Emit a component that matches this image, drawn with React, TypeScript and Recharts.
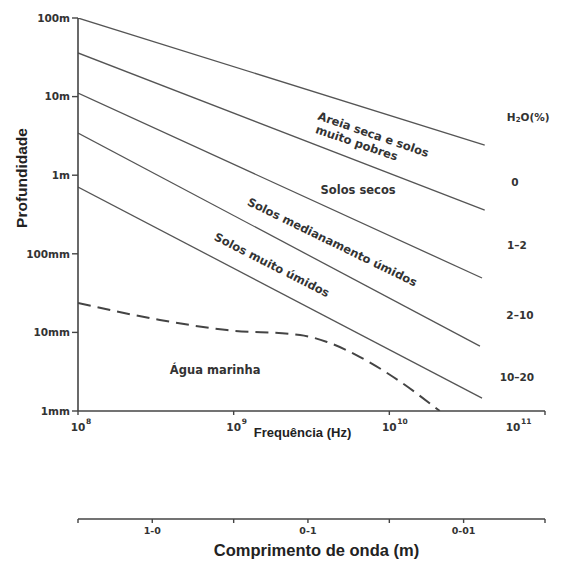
import { LineChart, Line, XAxis, YAxis, ReferenceDot } from "recharts"

// frequency (Hz) vs penetration depth (m), log-log
const areia = [{ f: 1e8, d: 100 }, { f: 4.1e10, d: 2.42 }]
const secos = [{ f: 1e8, d: 35.9 }, { f: 4.1e10, d: 0.36 }]
const medianos = [{ f: 1e8, d: 11.1 }, { f: 3.94e10, d: 0.0492 }]
const muitoUmidos = [{ f: 1e8, d: 3.44 }, { f: 3.82e10, d: 0.0067 }]
const encharcados = [{ f: 1e8, d: 0.708 }, { f: 3.94e10, d: 0.00146 }]
const aguaMarinha = [
  { f: 1e8, d: 0.0237 },
  { f: 3.36e8, d: 0.0144 },
  { f: 9.06e8, d: 0.0107 },
  { f: 2.67e9, d: 0.00927 },
  { f: 3.98e9, d: 0.00755 },
  { f: 6.49e9, d: 0.00486 },
  { f: 1.06e10, d: 0.00271 },
  { f: 2.11e10, d: 0.001 },
]

const freqTicks = [1e8, 1e9, 1e10, 1e11]
const depthTicks = [0.001, 0.01, 0.1, 1, 10, 100]
const depthLabels = ["1mm", "10mm", "100mm", "1m", "10m", "100m"]
const waveTicks = [3, 1, 0.3, 0.1, 0.03, 0.01, 0.003]
const waveLabels: Record<number, string> = { 1: "1-0", 0.1: "0-1", 0.01: "0-01" }

const notes = [
  { id: "areia", f: 7.9e9, d: 3.3, text: ["Areia seca e solos", "muito pobres"] },
  { id: "secos", f: 6.3e9, d: 0.65, text: ["Solos secos"] },
  { id: "medianos", f: 4.3e9, d: 0.141, text: ["Solos medianamento úmidos"] },
  { id: "umidos", f: 1.76e9, d: 0.0721, text: ["Solos muito úmidos"] },
  { id: "agua", f: 7.6e8, d: 0.00333, text: ["Água marinha"] },
]
const h2o = [
  { id: "h0", f: 7.8e10, d: 5.5, text: "0" },
  { id: "h1", f: 6.4e10, d: 0.82, text: "0" },
  { id: "h2", f: 6.6e10, d: 0.129, text: "1–2" },
  { id: "h3", f: 6.9e10, d: 0.0166, text: "2–10" },
  { id: "h4", f: 6.6e10, d: 0.00271, text: "10–20" },
]

const INK = "#333"
const LINE = "#555"
const FONT = "DejaVu Sans"
const TITLE_FONT = "Liberation Sans, Arial, sans-serif"
const rot: Record<string, number> = { areia: 19, secos: 0, medianos: 26, umidos: 27, agua: 0 }

const Note = ({ cx, cy, id, text }: any) => (
  <g transform={`translate(${cx},${cy}) rotate(${rot[id]})`}>
    {text.map((t: string, i: number) => (
      <text key={i} x={i * -13} y={i * 13.5} textAnchor="middle" dominantBaseline="central"
        fontFamily={FONT} fontWeight="bold" fontSize={11.5} fill={INK}>{t}</text>
    ))}
  </g>
)

const H2O = ({ cx, cy, id, text }: any) => (
  <text x={cx} y={cy} textAnchor="middle" dominantBaseline="central"
    fontFamily={FONT} fontWeight="bold" fontSize={10.5} fill={INK}>
    {id === "h0" ? <><tspan>H</tspan><tspan fontSize={7} dy={3}>2</tspan><tspan dy={-3}>O(%)</tspan></> : text}
  </text>
)

const FreqTick = ({ x, y, payload }: any) => (
  <g>
    <text x={x} y={y + 14} textAnchor="middle" fontFamily={FONT} fontWeight="bold" fontSize={10.5} fill={INK}>10</text>
    <text x={x + 8} y={y + 7} textAnchor="start" fontFamily={FONT} fontWeight="bold" fontSize={7.5} fill={INK}>
      {Math.round(Math.log10(payload.value))}
    </text>
  </g>
)

export default function App() {
  return (
    <div style={{ position: "absolute", left: 0, top: 0, width: 561, height: 564, background: "#fff" }}>
      <LineChart width={561} height={564} margin={{ top: 18, right: 16, left: 0, bottom: 0 }}>
        <XAxis
          dataKey="f" type="number" scale="log" domain={[1e8, 1e11]} allowDataOverflow
          ticks={freqTicks} tick={<FreqTick />} tickSize={4} tickMargin={2} height={108}
          axisLine={{ stroke: "#444", strokeWidth: 1.6 }} tickLine={{ stroke: "#444", strokeWidth: 1.4 }}
          label={({ viewBox }: any) => (
            <text x={viewBox.x + viewBox.width / 2 - 9} y={viewBox.y + 26} textAnchor="middle"
              fontFamily={TITLE_FONT} fontWeight="bold" fontSize={13} fill="#222">Frequência (Hz)</text>
          )}
        />
        <XAxis
          xAxisId="wl" dataKey="wl" type="number" scale="log" domain={[0.003, 3]} reversed allowDataOverflow
          ticks={waveTicks} tickFormatter={(v: number) => waveLabels[v] ?? ""} tickSize={4} tickMargin={4} height={45}
          tick={{ fontFamily: FONT, fontWeight: "bold", fontSize: 9.5, fill: INK }}
          axisLine={{ stroke: "#444", strokeWidth: 1.6 }} tickLine={{ stroke: "#444", strokeWidth: 1.4 }}
          label={({ viewBox }: any) => (
            <text x={viewBox.x + viewBox.width / 2 + 5} y={viewBox.y + 37} textAnchor="middle"
              fontFamily={TITLE_FONT} fontWeight="bold" fontSize={16.5} fill="#222">Comprimento de onda (m)</text>
          )}
        />
        <YAxis
          dataKey="d" type="number" scale="log" domain={[0.001, 100]} allowDataOverflow
          ticks={depthTicks} tickFormatter={(v: number) => depthLabels[depthTicks.indexOf(v)]}
          width={78} tickSize={6} tickMargin={2}
          tick={{ fontFamily: FONT, fontWeight: "bold", fontSize: 10.5, fill: INK }}
          axisLine={{ stroke: "#444", strokeWidth: 1.6 }} tickLine={{ stroke: "#444", strokeWidth: 1.4 }}
          label={({ viewBox }: any) => (
            <text transform={`translate(21, ${viewBox.y + 160}) rotate(-90)`} textAnchor="middle" dominantBaseline="central"
              fontFamily={TITLE_FONT} fontWeight="bold" fontSize={15.5} fill="#222">Profundidade</text>
          )}
        />
        {[areia, secos, medianos, muitoUmidos, encharcados].map((s, i) => (
          <Line key={i} data={s} dataKey="d" stroke={LINE} strokeWidth={1.3} dot={false}
            type="linear" isAnimationActive={false} />
        ))}
        <Line data={aguaMarinha} dataKey="d" stroke="#444" strokeWidth={2} strokeDasharray="13 7"
          dot={false} type="monotone" isAnimationActive={false} />
        {notes.map((n) => (
          <ReferenceDot key={n.id} x={n.f} y={n.d} r={0} ifOverflow="visible"
            shape={(p: any) => <Note cx={p.cx} cy={p.cy} id={n.id} text={n.text} />} />
        ))}
        {h2o.map((n) => (
          <ReferenceDot key={n.id} x={n.f} y={n.d} r={0} ifOverflow="visible"
            shape={(p: any) => <H2O cx={p.cx} cy={p.cy} id={n.id} text={n.text} />} />
        ))}
      </LineChart>
    </div>
  )
}
